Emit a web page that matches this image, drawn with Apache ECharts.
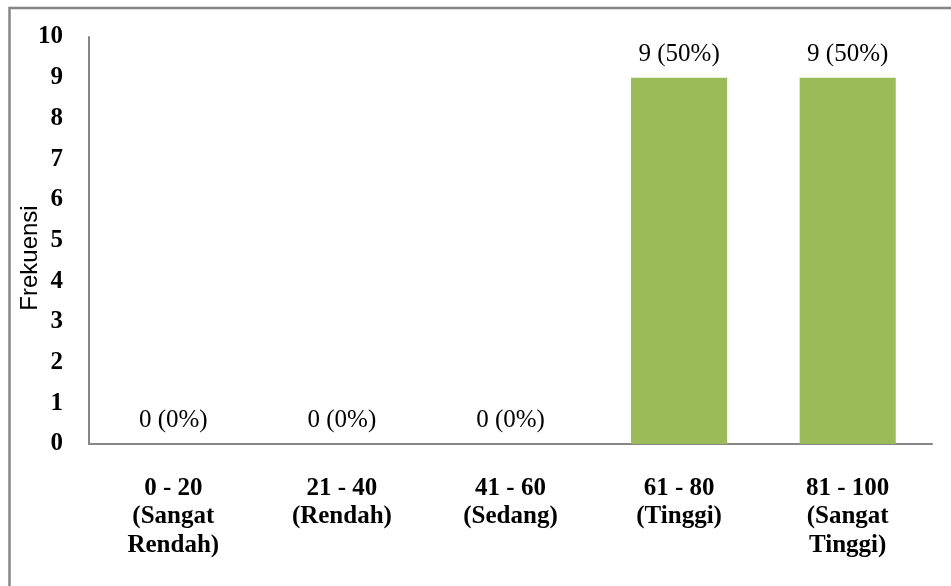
<!DOCTYPE html>
<html>
<head>
<meta charset="utf-8">
<script src="https://cdn.jsdelivr.net/npm/echarts@6/dist/echarts.min.js"></script>
<style>
html,body{margin:0;padding:0;background:#fff;}
#chart{width:951px;height:586px;}
</style>
</head>
<body>
<div id="chart"></div>
<script>
const categories = ['0 - 20\n(Sangat\nRendah)', '21 - 40\n(Rendah)', '41 - 60\n(Sedang)', '61 - 80\n(Tinggi)', '81 - 100\n(Sangat\nTinggi)'];
const frequencies = [0, 0, 0, 9, 9];
const percentages = ['0%', '0%', '0%', '50%', '50%'];
const yTicks = [0, 1, 2, 3, 4, 5, 6, 7, 8, 9, 10];
const yAxisTitle = 'Frekuensi';

const serif = '"Liberation Serif", "Times New Roman", serif';
const chart = echarts.init(document.getElementById('chart'), null, {renderer: 'canvas'});
chart.setOption({
  animation: false,
  backgroundColor: '#ffffff',
  graphic: [{
    type: 'rect',
    shape: {x: 9.5, y: 8, width: 1000, height: 700},
    style: {fill: 'none', stroke: '#868686', lineWidth: 2.5},
    silent: true
  }, {
    type: 'text',
    x: 30,
    y: 258,
    rotation: Math.PI / 2,
    style: {
      text: yAxisTitle,
      fill: '#000',
      font: '24px "Liberation Sans", Arial, sans-serif',
      textAlign: 'center',
      textVerticalAlign: 'middle'
    },
    silent: true
  }],
  grid: {left: 89, right: 19, top: 37, bottom: 142, containLabel: false},
  xAxis: {
    type: 'category',
    data: categories,
    axisLine: {lineStyle: {color: '#868686', width: 2}},
    axisTick: {show: false},
    axisLabel: {
      interval: 0,
      margin: 30,
      color: '#000',
      fontFamily: serif,
      fontWeight: 'bold',
      fontSize: 25,
      lineHeight: 28.5
    }
  },
  yAxis: {
    type: 'value',
    min: yTicks[0],
    max: yTicks[yTicks.length - 1],
    interval: 1,
    axisLine: {show: true, lineStyle: {color: '#868686', width: 2}},
    axisTick: {show: false},
    splitLine: {show: false},
    axisLabel: {
      margin: 26,
      color: '#000',
      fontFamily: serif,
      fontWeight: 'bold',
      fontSize: 25,
      padding: [8, 0, 0, 0]
    }
  },
  series: [{
    type: 'bar',
    data: frequencies,
    barWidth: '57%',
    itemStyle: {color: '#9BBB59'},
    label: {
      show: true,
      position: 'top',
      distance: 11,
      color: '#000',
      fontFamily: serif,
      fontSize: 25,
      formatter: function (p) { return p.value + ' (' + percentages[p.dataIndex] + ')'; }
    }
  }]
});
</script>
</body>
</html>
